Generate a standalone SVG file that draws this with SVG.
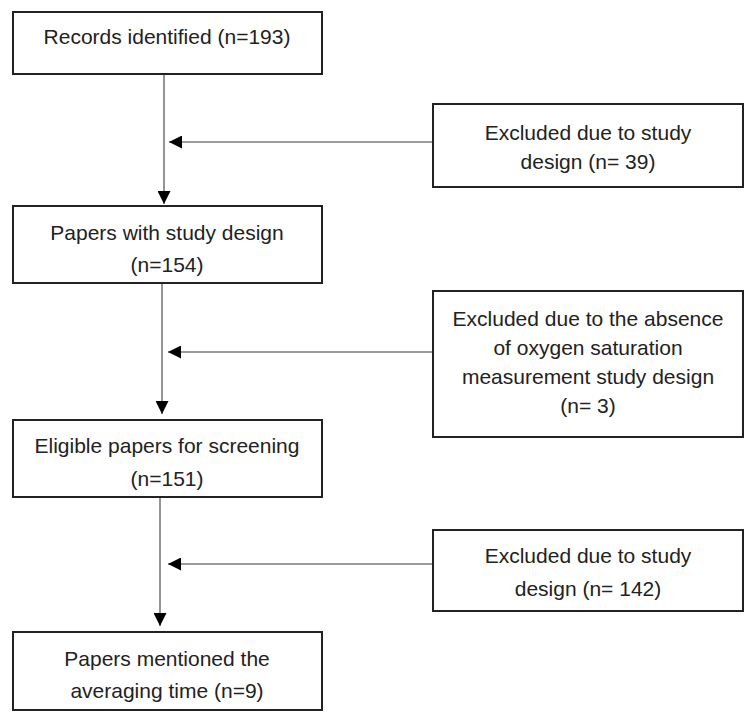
<svg xmlns="http://www.w3.org/2000/svg" width="750" height="713" viewBox="0 0 750 713">
<style>
.box{fill:#fff;stroke:#222;stroke-width:2}
.t{font-family:"Liberation Sans",Arial,sans-serif;font-size:21px;fill:#222;text-anchor:middle}
.ln{stroke:#7a7a7a;stroke-width:1.6;fill:none}
</style>
<defs>
<marker id="ah2" viewBox="0 0 10 10" refX="10" refY="5" markerWidth="13" markerHeight="13" orient="auto" markerUnits="userSpaceOnUse">
<path d="M0,0 L10,5 L0,10 Z" fill="#000"/>
</marker>
</defs>
<rect width="750" height="713" fill="#fff"/>
<g id="connectors">
<line class="ln" x1="164" y1="74" x2="164" y2="204" marker-end="url(#ah2)"/>
<line class="ln" x1="433" y1="142" x2="169" y2="142" marker-end="url(#ah2)"/>
<line class="ln" x1="162" y1="283" x2="162" y2="414" marker-end="url(#ah2)"/>
<line class="ln" x1="433" y1="352" x2="168" y2="352" marker-end="url(#ah2)"/>
<line class="ln" x1="160" y1="497" x2="160" y2="626" marker-end="url(#ah2)"/>
<line class="ln" x1="433" y1="564" x2="168" y2="564" marker-end="url(#ah2)"/>
</g>
<g id="n1">
<rect class="box" x="13" y="12" width="309" height="62"/>
<text class="t" x="167" y="44">Records identified (n=193)</text>
</g>
<g id="n2">
<rect class="box" x="13" y="206" width="309" height="77"/>
<text class="t" x="167" y="240">Papers with study design</text>
<text class="t" x="167" y="272">(n=154)</text>
</g>
<g id="n3">
<rect class="box" x="13" y="420" width="309" height="77"/>
<text class="t" x="167" y="453">Eligible papers for screening</text>
<text class="t" x="167" y="486">(n=151)</text>
</g>
<g id="n4">
<rect class="box" x="13" y="632" width="309" height="78"/>
<text class="t" x="167" y="666">Papers mentioned the</text>
<text class="t" x="167" y="698">averaging time (n=9)</text>
</g>
<g id="e1">
<rect class="box" x="433" y="104" width="310" height="83"/>
<text class="t" x="588" y="140">Excluded due to study</text>
<text class="t" x="588" y="169">design (n= 39)</text>
</g>
<g id="e2">
<rect class="box" x="433" y="291" width="310" height="146"/>
<text class="t" x="588" y="326">Excluded due to the absence</text>
<text class="t" x="588" y="355">of oxygen saturation</text>
<text class="t" x="588" y="384">measurement study design</text>
<text class="t" x="588" y="413">(n= 3)</text>
</g>
<g id="e3">
<rect class="box" x="433" y="530" width="310" height="81"/>
<text class="t" x="588" y="563">Excluded due to study</text>
<text class="t" x="588" y="596">design (n= 142)</text>
</g>
</svg>
